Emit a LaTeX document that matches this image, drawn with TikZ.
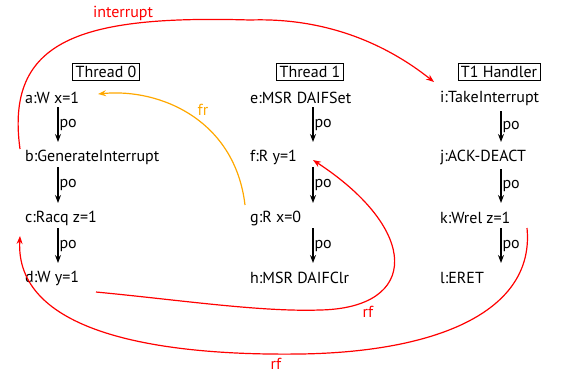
\documentclass[tikz,border=0pt]{standalone}
\usepackage{fontspec}
\setmainfont{PT Sans}
\usetikzlibrary{arrows.meta,calc}
\definecolor{frorange}{RGB}{255,168,0}

\begin{document}
\begin{tikzpicture}[x=1pt, y=1pt,
    every node/.style={font=\fontsize{16}{19}\selectfont},
    ev/.style={anchor=west, inner sep=1pt},
    thr/.style={draw, line width=0.8pt, inner sep=3pt},
    po/.style={-{Stealth[length=8pt,width=6pt]}, line width=1.1pt},
    rel/.style={-{Stealth[length=8pt,width=6pt]}, line width=1.2pt}]
    \useasboundingbox (0,0) rectangle (569,-376);

    % thread headers
    \node[thr] (t0) at (106,-72) {Thread 0};
    \node[thr] (t1) at (310,-72) {Thread 1};
    \node[thr] (t2) at (499,-72) {T1 Handler};

    % events
    \node[ev] (a) at (24,-98) {a:W x=1};
    \node[ev] (b) at (24,-157) {b:GenerateInterrupt};
    \node[ev] (c) at (24,-218) {c:Racq z=1};
    \node[ev] (d) at (24,-278) {d:W y=1};

    \node[ev] (e) at (249,-98) {e:MSR DAIFSet};
    \node[ev] (f) at (249,-157) {f:R y=1};
    \node[ev] (g) at (249,-218) {g:R x=0};
    \node[ev] (h) at (249,-278) {h:MSR DAIFClr};

    \node[ev] (i) at (439,-98) {i:TakeInterrupt};
    \node[ev] (j) at (439,-157) {j:ACK-DEACT};
    \node[ev] (k) at (439,-218) {k:Wrel z=1};
    \node[ev] (l) at (439,-278) {l:ERET};

    % program order
    \draw[po] ($(a.west)+(34,-9)$) -- ($(b.west)+(34,15)$) node[midway, right, inner sep=1pt] {po};
    \draw[po] ($(b.west)+(34,-10)$) -- ($(c.west)+(34,15)$) node[midway, right, inner sep=1pt] {po};
    \draw[po] ($(c.west)+(34,-10)$) -- ($(d.west)+(34,15)$) node[midway, right, inner sep=1pt] {po};

    \draw[po] ($(e.west)+(64,-9)$) -- ($(f.west)+(64,15)$) node[midway, right, inner sep=1pt] {po};
    \draw[po] ($(f.west)+(64,-10)$) -- ($(g.west)+(64,15)$) node[midway, right, inner sep=1pt] {po};
    \draw[po] ($(g.west)+(64,-10)$) -- ($(h.west)+(64,15)$) node[midway, right, inner sep=1pt] {po};

    \draw[po] ($(i.west)+(62,-13)$) -- ($(j.west)+(62,15)$) node[midway, right, inner sep=1pt] {po};
    \draw[po] ($(j.west)+(62,-12)$) -- ($(k.west)+(62,15)$) node[midway, right, inner sep=1pt] {po};
    \draw[po] ($(k.west)+(62,-10)$) -- ($(l.west)+(62,15)$) node[midway, right, inner sep=1pt] {po};

    % interrupt
    \draw[rel, red] ($(b.west)+(-4,8)$) .. controls (5,-40) and (80,-15) .. (250,-20)
        .. controls (340,-17) and (400,-55) .. ($(i.west)+(-5,16)$);
    \node[red] (lint) at (123,-13) {interrupt};

    % reads-from
    \draw[rel, red] ($(d.west)+(72,-14)$) .. controls (180,-300) and (260,-312) .. (320,-310)
        .. controls (420,-308) and (420,-230) .. ($(f.west)+(64,-3)$);
    \node[red] (lrf1) at (368,-312) {rf};
    \draw[rel, red] ($(k.west)+(88,-10)$) .. controls (535,-310) and (440,-352) .. (300,-354)
        .. controls (150,-356) and (15,-330) .. ($(c.west)+(-4,-18)$);
    \node[red] (lrf2) at (276,-364) {rf};

    % from-read
    \draw[rel, frorange] ($(g.west)+(-4,13)$) .. controls (235,-120) and (160,-88) .. ($(a.west)+(74,4)$);
    \node[frorange] (lfr) at (203,-110) {fr};
\end{tikzpicture}
\end{document}
